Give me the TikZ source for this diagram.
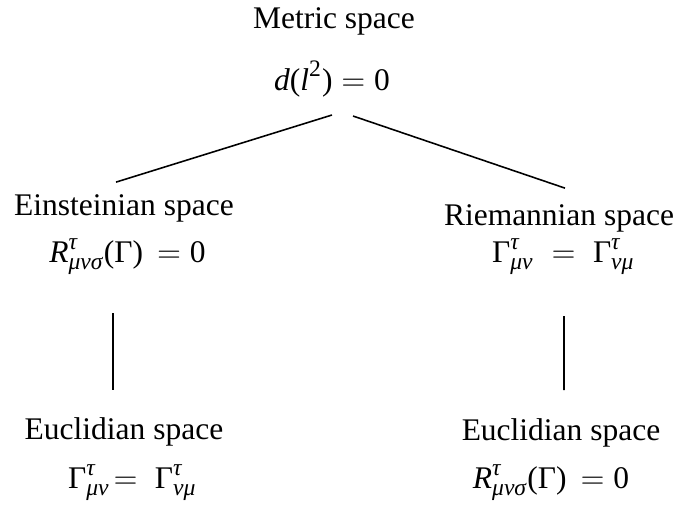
\documentclass[tikz,border=0pt,12pt]{standalone}
\usepackage{amsmath}
\usepackage{fontspec}
\setmainfont{Liberation Serif}
\usepackage{tikz}
\usetikzlibrary{calc}
\DeclareMathSizes{12}{12}{9}{7}
\tikzset{
  space/.style={inner sep=0pt, anchor=base},
  eqn/.style={inner sep=0pt, anchor=base},
  link/.style={draw=black, line width=0.6pt},
}
% italic letters and Greek taken from the text font
\newcommand{\vi}[1]{\textit{#1}}
\newcommand{\vr}[1]{\text{#1}}

\begin{document}
\begin{tikzpicture}[x=0.381pt, y=-0.381pt]
  \useasboundingbox (0,0) rectangle (677,521);
  % top
  \node[space] (metric) at (334,28) {Metric space};
  \node[eqn] (metriceq) at (332,90) {$\vi{d}\vr{(}\vi{l}^{\vr{2}}\vr{)} = \vr{0}$};
  % left branch
  \node[space] (einstein) at (124,215) {Einsteinian space};
  \node[eqn] (einsteineq) at (127.5,262) {$\vi{R}^{\vi{τ}}_{\vi{μνσ}}\vr{(Γ)}\, = \vr{0}$};
  \node[space] (eucl) at (124,439) {Euclidian space};
  \node[eqn] (eucleq) at (132.5,488) {$\vr{Γ}^{\vi{τ}}_{\vi{μν}}\!= \;\vr{Γ}^{\vi{τ}}_{\vi{νμ}}$};
  % right branch
  \node[space] (riemann) at (559,225) {Riemannian space};
  \node[eqn] (riemanneq) at (563.5,262) {$\vr{Γ}^{\vi{τ}}_{\vi{μν}} \;=\; \vr{Γ}^{\vi{τ}}_{\vi{νμ}}$};
  \node[space] (euclr) at (561,440) {Euclidian space};
  \node[eqn] (euclreq) at (551,488) {$\vi{R}^{\vi{τ}}_{\vi{μνσ}}\vr{(Γ)}\, = \vr{0}$};
  % connectors
  \draw[link] ($(metriceq.base)+(0,25)$) -- ($(einstein.north)+(-8,-11.5)$);
  \draw[link] ($(metriceq.base)+(21,26)$) -- ($(riemann.north)+(6,-15.5)$);
  \draw[link] ($(einsteineq.base)+(-14.5,51)$) -- ($(eucl.north)+(-11,-26.5)$);
  \draw[link] ($(riemanneq.base)+(0.5,54)$) -- ($(euclr.north)+(3,-27.5)$);
\end{tikzpicture}
\end{document}
